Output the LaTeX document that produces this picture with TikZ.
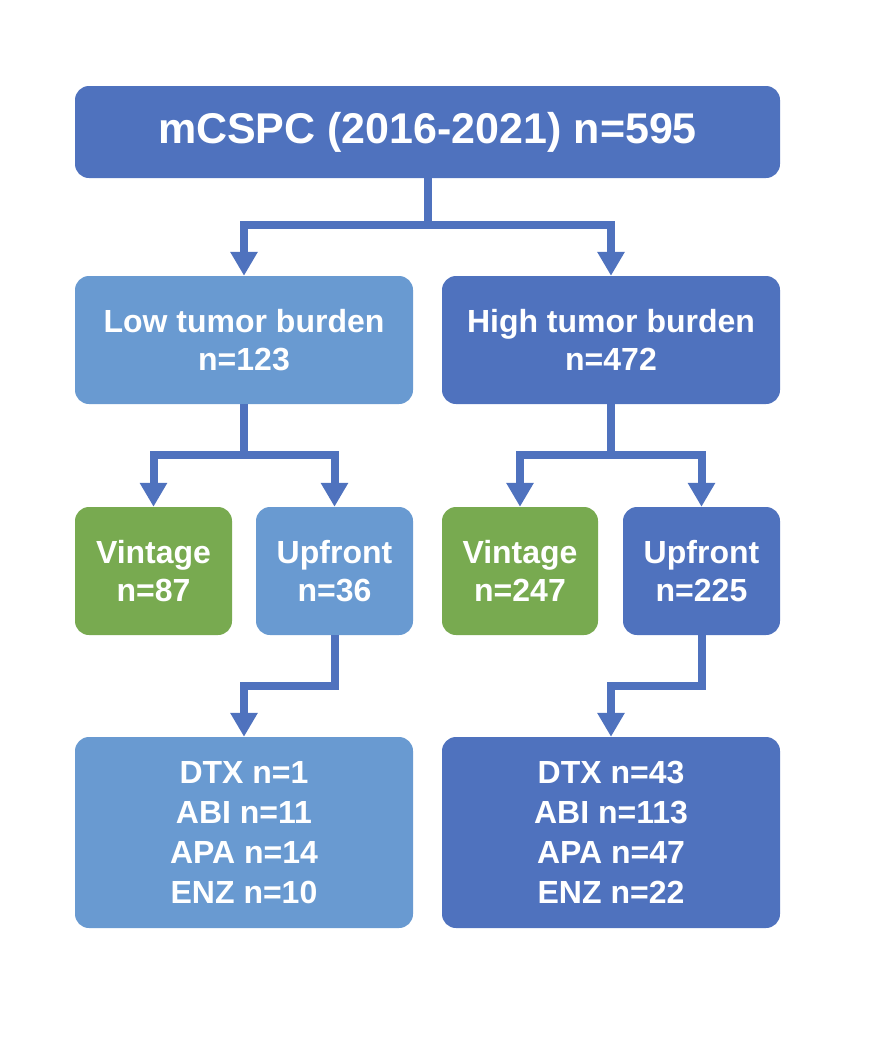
\documentclass[tikz,border=0pt]{standalone}
\usepackage{fontspec}
\setmainfont{Liberation Sans}
\usepackage{tikz}
\usetikzlibrary{arrows.meta}

\definecolor{darkblue}{RGB}{79,114,190}
\definecolor{lightblue}{RGB}{105,154,209}
\definecolor{leafgreen}{RGB}{120,170,80}

\begin{document}
\begin{tikzpicture}[x=1pt, y=-1pt]
\tikzset{box/.style={rectangle,rounded corners=14pt,text=white,align=center,
  inner sep=0,font=\bfseries\fontsize{32}{38}\selectfont},
darkbox/.style={box,fill=darkblue},
lightbox/.style={box,fill=lightblue},
greenbox/.style={box,fill=leafgreen},
conn/.style={draw=darkblue,line width=8pt,line join=miter,
  -{Triangle[width=26pt,length=24pt]}}}

\useasboundingbox (0,0) rectangle (870,1063);

\node (top) [darkbox,minimum width=705pt,minimum height=92pt,
  font=\bfseries\fontsize{43}{48}\selectfont] at (427.5,132) {mCSPC (2016-2021) n=595};

\node (low) [lightbox,minimum width=338pt,minimum height=128pt] at (244,340) {Low tumor burden\\n=123};
\node (high) [darkbox,minimum width=338pt,minimum height=128pt] at (611,340) {High tumor burden\\n=472};

\node (vl) [greenbox,minimum width=157pt,minimum height=128pt] at (153.5,571) {Vintage\\n=87};
\node (ul) [lightbox,minimum width=157pt,minimum height=128pt] at (334.5,571) {Upfront\\n=36};
\node (vh) [greenbox,minimum width=156pt,minimum height=128pt] at (520,571) {Vintage\\n=247};
\node (uh) [darkbox,minimum width=157pt,minimum height=128pt] at (701.5,571) {Upfront\\n=225};

\node (dl) [lightbox,minimum width=338pt,minimum height=191pt,
  font=\bfseries\fontsize{32}{40}\selectfont] at (244,832.5) {DTX n=1\\ABI n=11\\APA n=14\\ENZ n=10};
\node (dh) [darkbox,minimum width=338pt,minimum height=191pt,
  font=\bfseries\fontsize{32}{40}\selectfont] at (611,832.5) {DTX n=43\\ABI n=113\\APA n=47\\ENZ n=22};

%% Edges
\draw[conn] (top.south) -- ++(0,47) -| (low.north);
\draw[conn] (top.south) -- ++(0,47) -| (high.north);
\draw[conn] (low.south) -- ++(0,51) -| (vl.north);
\draw[conn] (low.south) -- ++(0,51) -| (ul.north);
\draw[conn] (high.south) -- ++(0,51) -| (vh.north);
\draw[conn] (high.south) -- ++(0,51) -| (uh.north);
\draw[conn] (ul.south) -- ++(0,51) -| (dl.north);
\draw[conn] (uh.south) -- ++(0,51) -| (dh.north);

\end{tikzpicture}
\end{document}
